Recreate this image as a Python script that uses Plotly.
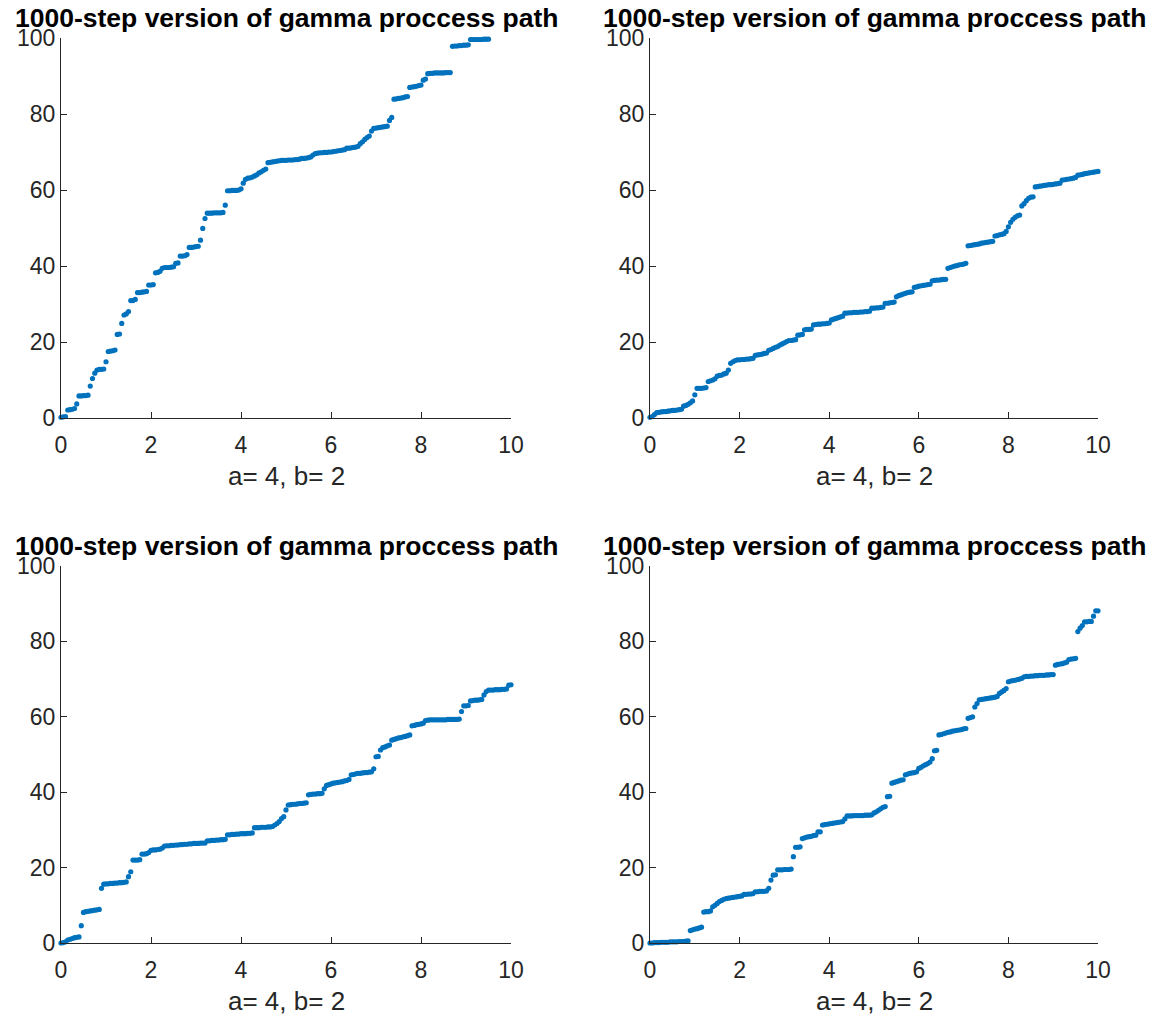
import plotly.graph_objects as go

# Sampled gamma-process paths (a=4, b=2), one value every 0.05 time units
path_1 = [
    0.2, 0.3, 0.4, 2.1, 2.2, 2.3, 2.5, 3.7, 5.8, 5.8,
    5.9, 5.9, 6.0, 8.4, 10.4, 11.8, 12.6, 12.8, 12.8, 12.9,
    14.8, 17.5, 17.6, 17.7, 17.9, 22.0, 22.1, 24.9, 27.1, 27.4,
    28.0, 30.9, 30.9, 31.2, 33.0, 33.0, 33.1, 33.2, 33.3, 35.0,
    35.0, 35.1, 38.2, 38.3, 38.6, 39.4, 39.6, 39.6, 39.6, 39.7,
    39.8, 40.7, 40.8, 42.6, 42.6, 42.7, 43.0, 44.9, 44.9, 45.0,
    45.1, 45.2, 46.8, 49.9, 52.5, 53.9, 53.9, 53.9, 54.0, 54.0,
    54.0, 54.0, 54.1, 56.0, 59.8, 59.8, 59.9, 59.9, 59.9, 60.0,
    60.3, 61.8, 62.8, 63.1, 63.2, 63.4, 63.7, 64.0, 64.5, 64.8,
    65.2, 65.5, 67.2, 67.3, 67.4, 67.5, 67.6, 67.7, 67.8, 67.8,
    67.8, 67.9, 67.9, 67.9, 68.0, 68.0, 68.1, 68.3, 68.3, 68.4,
    68.5, 68.7, 69.2, 69.6, 69.7, 69.8, 69.8, 69.9, 69.9, 70.0,
    70.0, 70.1, 70.2, 70.3, 70.4, 70.5, 70.6, 71.0, 71.0, 71.1,
    71.2, 71.3, 71.5, 72.2, 72.7, 73.3, 73.8, 74.2, 75.5, 76.2,
    76.3, 76.4, 76.5, 76.6, 76.7, 76.8, 78.3, 79.1, 83.9, 84.0,
    84.1, 84.2, 84.3, 84.5, 84.6, 87.0, 87.1, 87.2, 87.3, 87.5,
    87.6, 88.9, 89.2, 90.6, 90.7, 90.7, 90.8, 90.8, 90.8, 90.8,
    90.8, 90.9, 90.9, 90.9, 97.8, 97.9, 97.9, 98.0, 98.0, 98.1,
    98.1, 98.2, 99.6, 99.6, 99.6, 99.6, 99.6, 99.6, 99.7, 99.7,
    99.7,
]

path_2 = [
    0.2, 0.4, 0.9, 1.4, 1.5, 1.6, 1.7, 1.7, 1.8, 1.9,
    2.0, 2.0, 2.1, 2.2, 2.3, 3.1, 3.3, 3.6, 4.0, 4.5,
    6.1, 7.8, 7.8, 7.8, 7.9, 8.0, 9.6, 9.8, 10.0, 10.3,
    11.0, 11.2, 11.3, 11.6, 11.8, 12.6, 14.4, 14.8, 15.1, 15.3,
    15.3, 15.4, 15.4, 15.5, 15.5, 15.6, 15.7, 16.5, 16.6, 16.7,
    16.8, 17.0, 17.1, 17.8, 18.0, 18.3, 18.6, 18.8, 19.2, 19.5,
    19.8, 20.1, 20.4, 20.4, 20.5, 20.6, 21.8, 21.9, 22.0, 23.2,
    23.3, 23.3, 23.4, 24.5, 24.6, 24.7, 24.7, 24.8, 24.8, 24.9,
    25.0, 25.8, 26.0, 26.2, 26.4, 26.6, 26.8, 27.6, 27.6, 27.7,
    27.7, 27.8, 27.8, 27.8, 27.9, 27.9, 28.0, 28.0, 28.1, 28.9,
    28.9, 29.0, 29.0, 29.1, 29.2, 30.2, 30.2, 30.3, 30.4, 30.5,
    31.9, 32.2, 32.4, 32.6, 32.8, 33.0, 33.1, 33.2, 34.4, 34.5,
    34.7, 34.8, 34.9, 35.0, 35.1, 35.2, 36.1, 36.2, 36.3, 36.3,
    36.4, 36.5, 36.5, 39.4, 39.6, 39.8, 40.0, 40.1, 40.3, 40.4,
    40.5, 40.7, 45.3, 45.4, 45.5, 45.6, 45.7, 45.8, 46.0, 46.1,
    46.2, 46.3, 46.4, 46.5, 47.9, 48.0, 48.2, 48.3, 48.5, 49.1,
    50.3, 51.5, 52.3, 52.8, 53.2, 53.4, 55.8, 56.4, 57.2, 57.8,
    58.1, 58.2, 60.8, 60.9, 61.0, 61.1, 61.2, 61.3, 61.4, 61.4,
    61.5, 61.6, 61.7, 61.8, 62.6, 62.7, 62.8, 62.9, 63.0, 63.1,
    63.3, 63.9, 64.0, 64.1, 64.3, 64.4, 64.5, 64.6, 64.7, 64.8,
    64.9,
]

path_3 = [
    0.0, 0.1, 0.3, 0.8, 1.0, 1.2, 1.4, 1.5, 1.6, 4.6,
    8.1, 8.3, 8.4, 8.5, 8.6, 8.7, 8.8, 8.9, 14.5, 15.6,
    15.7, 15.7, 15.8, 15.8, 15.9, 15.9, 16.0, 16.0, 16.1, 16.2,
    17.6, 18.9, 22.0, 22.0, 22.0, 22.1, 23.6, 23.6, 23.7, 24.0,
    24.6, 24.7, 24.7, 24.8, 24.9, 25.2, 25.7, 25.8, 25.8, 25.9,
    25.9, 26.0, 26.0, 26.1, 26.1, 26.2, 26.2, 26.3, 26.3, 26.4,
    26.4, 26.4, 26.5, 26.5, 26.5, 27.1, 27.1, 27.2, 27.2, 27.3,
    27.3, 27.4, 27.4, 27.5, 28.7, 28.7, 28.8, 28.8, 28.9, 28.9,
    29.0, 29.0, 29.0, 29.1, 29.1, 29.2, 30.6, 30.6, 30.6, 30.7,
    30.7, 30.7, 30.8, 30.8, 30.9, 31.3, 31.7, 32.2, 33.0, 33.5,
    35.3, 36.6, 36.7, 36.8, 36.8, 36.9, 37.0, 37.0, 37.1, 37.2,
    39.3, 39.4, 39.5, 39.5, 39.6, 39.6, 39.7, 40.9, 41.8, 42.0,
    42.2, 42.4, 42.5, 42.6, 42.7, 42.8, 43.0, 43.1, 43.4, 44.6,
    44.7, 44.9, 45.0, 45.0, 45.1, 45.2, 45.2, 45.3, 45.4, 46.2,
    49.4, 49.5, 51.2, 51.8, 52.0, 52.3, 52.5, 53.8, 54.0, 54.2,
    54.4, 54.5, 54.7, 54.8, 55.0, 55.2, 57.6, 57.7, 57.9, 58.0,
    58.1, 58.3, 59.0, 59.1, 59.2, 59.2, 59.2, 59.2, 59.2, 59.2,
    59.2, 59.2, 59.3, 59.3, 59.3, 59.3, 59.3, 59.4, 61.4, 62.9,
    62.9, 63.0, 64.2, 64.3, 64.4, 64.4, 64.5, 64.6, 65.8, 66.7,
    67.1, 67.1, 67.1, 67.2, 67.2, 67.2, 67.3, 67.3, 67.4, 68.4,
    68.5,
]

path_4 = [
    0.0, 0.0, 0.1, 0.1, 0.1, 0.2, 0.2, 0.2, 0.2, 0.3,
    0.3, 0.3, 0.3, 0.4, 0.4, 0.4, 0.5, 0.6, 3.3, 3.5,
    3.7, 3.8, 4.0, 4.2, 8.2, 8.3, 8.3, 8.5, 9.6, 10.0,
    10.5, 11.0, 11.3, 11.6, 11.8, 11.9, 12.0, 12.1, 12.2, 12.3,
    12.4, 12.5, 12.9, 12.9, 13.0, 13.0, 13.1, 13.6, 13.6, 13.7,
    13.7, 13.7, 13.8, 14.5, 16.7, 18.0, 18.1, 19.4, 19.4, 19.4,
    19.5, 19.5, 19.5, 19.6, 22.9, 25.4, 25.4, 25.5, 27.7, 27.9,
    28.1, 28.2, 28.3, 28.5, 28.6, 29.5, 29.5, 31.3, 31.4, 31.5,
    31.6, 31.7, 31.8, 31.9, 32.0, 32.1, 32.2, 32.9, 33.7, 33.7,
    33.7, 33.8, 33.8, 33.8, 33.8, 33.8, 33.9, 33.9, 33.9, 34.0,
    34.5, 34.8, 35.2, 35.6, 36.0, 36.2, 38.8, 38.9, 42.4, 42.6,
    42.8, 43.0, 43.2, 43.3, 44.6, 44.8, 45.0, 45.1, 45.2, 45.4,
    46.3, 46.6, 47.0, 47.3, 47.6, 48.0, 48.9, 51.0, 51.1, 55.2,
    55.3, 55.5, 55.7, 55.9, 56.0, 56.2, 56.3, 56.4, 56.5, 56.6,
    56.8, 56.9, 59.6, 59.8, 60.0, 62.6, 63.5, 64.5, 64.6, 64.7,
    64.8, 64.9, 65.0, 65.1, 65.2, 65.4, 66.2, 66.6, 67.0, 67.5,
    69.3, 69.5, 69.6, 69.7, 69.9, 70.0, 70.2, 70.6, 70.7, 70.7,
    70.8, 70.8, 70.9, 70.9, 71.0, 71.0, 71.0, 71.1, 71.1, 71.2,
    71.2, 73.7, 73.9, 74.0, 74.1, 74.3, 74.5, 75.2, 75.3, 75.4,
    75.5, 82.6, 83.5, 84.2, 85.2, 85.2, 85.3, 85.3, 86.7, 88.1,
    88.1,
]

paths = [path_1, path_2, path_3, path_4]
TIME_STEP = 0.05

title_text = "1000-step version of gamma proccess path"
xlabel_text = "a= 4, b= 2"
x_ticks = [0, 2, 4, 6, 8, 10]
y_ticks = [0, 20, 40, 60, 80, 100]

W, H = 1156, 1020
# axes boxes in pixels: (left, right, top, bottom)
boxes = [
    (61, 511, 38, 418),
    (650, 1098, 38, 418),
    (61, 511, 566, 943),
    (650, 1098, 566, 943),
]

BLUE = "#0072BD"
AXIS = "#262626"
FONT = "Liberation Sans, Arial, Helvetica, sans-serif"

fig = go.Figure()
annotations = []

for i, (vals, (l, r, t, b)) in enumerate(zip(paths, boxes), start=1):
    times = [round(TIME_STEP * k, 2) for k in range(len(vals))]
    xa = "x" if i == 1 else f"x{i}"
    ya = "y" if i == 1 else f"y{i}"
    fig.add_trace(go.Scatter(
        x=times, y=vals, mode="markers",
        marker=dict(color=BLUE, size=5.2, line=dict(width=0)),
        xaxis=xa, yaxis=ya, cliponaxis=False, showlegend=False,
        hoverinfo="x+y",
    ))
    axis_common = dict(
        showgrid=False, zeroline=False, showline=True, linecolor=AXIS,
        linewidth=1.3, ticks="inside", ticklen=6, tickwidth=1.2,
        tickcolor=AXIS, mirror=False, automargin=False,
        tickfont=dict(family=FONT, size=23, color=AXIS),
    )
    key = "" if i == 1 else str(i)
    fig.layout["xaxis" + key] = dict(
        axis_common, domain=[l / W, r / W], range=[0, 10],
        tickvals=x_ticks, anchor=ya, ticklabelstandoff=6,
    )
    fig.layout["yaxis" + key] = dict(
        axis_common, domain=[1 - b / H, 1 - t / H], range=[0, 100],
        tickvals=y_ticks, anchor=xa, ticklabelstandoff=0,
    )
    cx = (l + r) / 2 / W
    annotations.append(dict(
        text=f"<b>{title_text}</b>", x=cx, y=1 - (t - 20) / H,
        xref="paper", yref="paper", xanchor="center", yanchor="middle",
        showarrow=False, font=dict(family=FONT, size=26.5, color="black"),
    ))
    annotations.append(dict(
        text=xlabel_text, x=cx, y=1 - (b + 58) / H,
        xref="paper", yref="paper", xanchor="center", yanchor="middle",
        showarrow=False, font=dict(family=FONT, size=26, color=AXIS),
    ))

fig.update_layout(
    width=W, height=H, margin=dict(l=0, r=0, t=0, b=0, autoexpand=False),
    paper_bgcolor="white", plot_bgcolor="white",
    annotations=annotations,
)

fig.write_html("out.html")
